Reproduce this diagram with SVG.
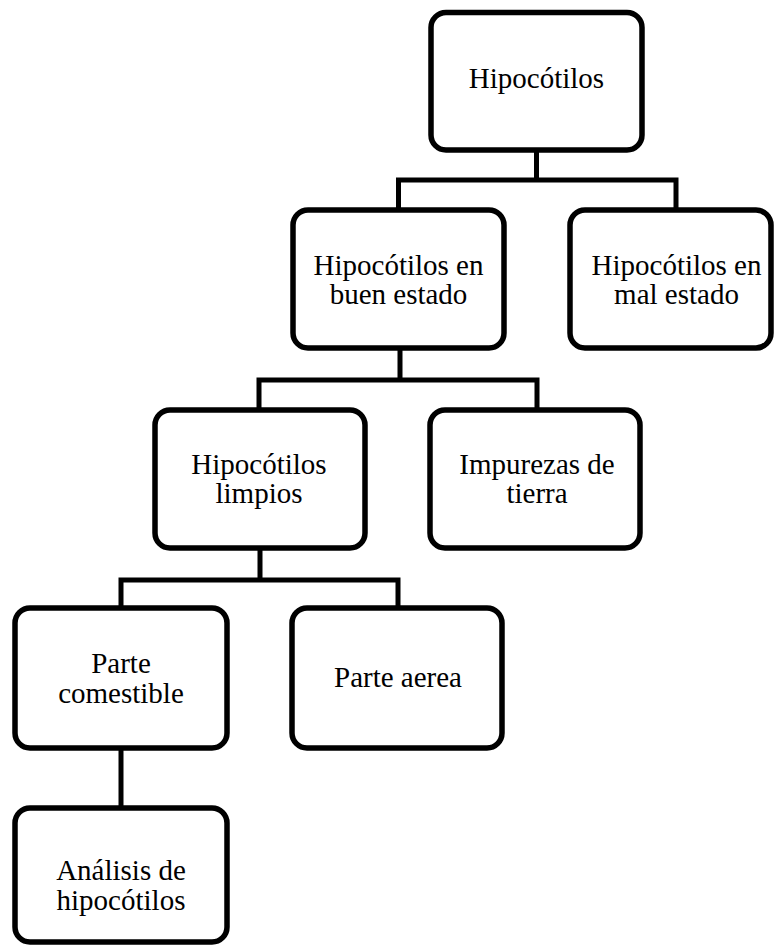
<svg xmlns="http://www.w3.org/2000/svg" width="774" height="946" viewBox="0 0 774 946">
<style>
.box{fill:#fff;stroke:#000;stroke-width:5.5}
.c{fill:none;stroke:#000;stroke-width:5;stroke-linecap:square}
text{font-size:29px;fill:#000;text-anchor:middle}
</style>
<rect width="774" height="946" fill="#fff"/>
<g id="connectors">
<path class="c" d="M536.5,150V180M398.5,180H676M398.5,180V210M676,180V210"/>
<path class="c" d="M400,348V380M259,380H537M259,380V410M537,380V410"/>
<path class="c" d="M260,548V580M121,580H398M121,580V608M398,580V608"/>
<path class="c" d="M121,748V808"/>
</g>
<g font-family="'Liberation Serif', 'Times New Roman', Times, serif">
<g id="n1"><rect class="box" x="431" y="12.5" width="211" height="137.5" rx="15"/><text x="536.5" y="88">Hipocótilos</text></g>
<g id="n2"><rect class="box" x="293" y="210" width="211" height="138" rx="15"/><text x="398.5" y="275">Hipocótilos en</text><text x="398.5" y="304">buen estado</text></g>
<g id="n3"><rect class="box" x="570" y="210" width="201" height="138" rx="15"/><text x="676.5" y="275">Hipocótilos en</text><text x="676.5" y="304">mal estado</text></g>
<g id="n4"><rect class="box" x="155" y="410" width="210" height="138" rx="15"/><text x="259" y="474">Hipocótilos</text><text x="259" y="503">limpios</text></g>
<g id="n5"><rect class="box" x="430" y="410" width="210" height="138" rx="15"/><text x="537" y="474">Impurezas de</text><text x="537" y="503">tierra</text></g>
<g id="n6"><rect class="box" x="15" y="608" width="212" height="140" rx="15"/><text x="121" y="673">Parte</text><text x="121" y="703">comestible</text></g>
<g id="n7"><rect class="box" x="292" y="608" width="210" height="140" rx="15"/><text x="398" y="687">Parte aerea</text></g>
<g id="n8"><rect class="box" x="15" y="808" width="212" height="134" rx="15"/><text x="121" y="880">Análisis de</text><text x="121" y="910">hipocótilos</text></g>
</g>
</svg>
